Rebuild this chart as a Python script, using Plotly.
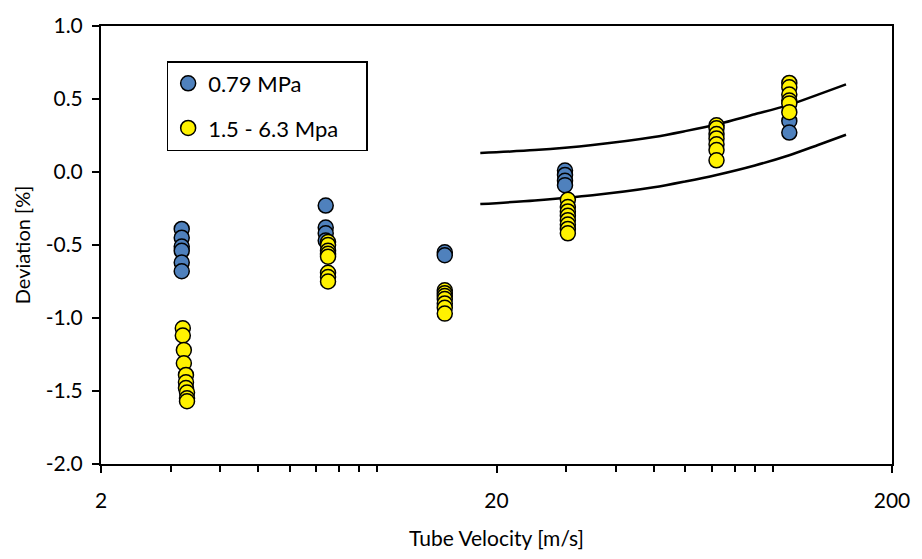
import plotly.graph_objects as go

# ---- data ----
blue_v = [3.2, 3.2, 3.2, 3.2, 3.2, 3.2,
          7.4, 7.4, 7.4, 7.4,
          14.8, 14.8,
          29.8, 29.8, 29.8, 29.8,
          110, 110]
blue_dev = [-0.39, -0.45, -0.51, -0.54, -0.62, -0.68,
            -0.23, -0.38, -0.42, -0.47,
            -0.55, -0.57,
            0.01, -0.02, -0.06, -0.09,
            0.35, 0.27]

yellow_v = [3.22, 3.22, 3.24, 3.24, 3.28, 3.28, 3.28, 3.30, 3.30, 3.30,
            7.5, 7.5, 7.5, 7.5, 7.5, 7.5, 7.5, 7.5,
            14.8, 14.8, 14.8, 14.8, 14.8, 14.8, 14.8,
            30.3, 30.3, 30.3, 30.3, 30.3, 30.3, 30.3, 30.3,
            72, 72, 72, 72, 72, 72, 72,
            110, 110, 110, 110, 110, 110]
yellow_dev = [-1.07, -1.12, -1.22, -1.31, -1.39, -1.44, -1.48, -1.51, -1.55, -1.57,
              -0.48, -0.50, -0.54, -0.56, -0.58, -0.69, -0.72, -0.75,
              -0.81, -0.83, -0.85, -0.87, -0.90, -0.93, -0.97,
              -0.19, -0.24, -0.27, -0.30, -0.33, -0.36, -0.39, -0.42,
              0.32, 0.30, 0.26, 0.23, 0.19, 0.15, 0.08,
              0.61, 0.58, 0.53, 0.49, 0.47, 0.41]

curve_v = [18.2, 25, 35, 50, 60, 72, 90, 110, 130, 153]
upper_dev = [0.13, 0.15, 0.185, 0.24, 0.28, 0.325, 0.395, 0.46, 0.53, 0.60]
lower_dev = [-0.22, -0.195, -0.16, -0.105, -0.065, -0.02, 0.045, 0.115, 0.185, 0.255]

x_ticks = [2, 20, 200]
y_ticks = [-2.0, -1.5, -1.0, -0.5, 0.0, 0.5, 1.0]
y_ticktext = ["%.1f" % t for t in y_ticks]  # plain hyphen minus, as in the reference

FONT = "Lato"
PAD = "\u00a0" * 4  # invisible padding to widen the legend box like the reference

fig = go.Figure()

for dev in (upper_dev, lower_dev):
    fig.add_trace(go.Scatter(x=curve_v, y=dev, mode="lines",
                             line=dict(color="black", width=2.5, shape="spline", smoothing=0.8),
                             showlegend=False, hoverinfo="skip"))

fig.add_trace(go.Scatter(x=blue_v, y=blue_dev, mode="markers", name="0.79 MPa", legendgroup="a",
                         marker=dict(size=15, color="#4F81BD", line=dict(color="black", width=1.5))))
fig.add_trace(go.Scatter(x=yellow_v, y=yellow_dev, mode="markers", name="1.5 - 6.3 Mpa" + PAD, legendgroup="b",
                         marker=dict(size=15, color="#FFF200", line=dict(color="black", width=1.5))))

fig.update_layout(
    width=922, height=559,
    margin=dict(l=101, r=25, t=21, b=94),
    paper_bgcolor="white", plot_bgcolor="white",
    font=dict(family=FONT, size=20, color="black"),
    showlegend=True,
    legend=dict(x=0.083, y=0.92, xanchor="left", yanchor="top",
                bordercolor="black", borderwidth=1.5, bgcolor="white",
                font=dict(family=FONT, size=22), tracegroupgap=13, traceorder="grouped"),
    xaxis=dict(type="log", range=[0.30103, 2.30103], tickvals=x_ticks, ticktext=[str(t) for t in x_ticks],
               showgrid=False, zeroline=False, showline=True, linecolor="black", linewidth=2, mirror=True,
               ticks="outside", ticklen=7, tickwidth=2, tickcolor="black", ticklabelstandoff=10,
               tickfont=dict(size=21),
               minor=dict(tickvals=[3, 4, 5, 6, 7, 8, 9, 10, 30, 40, 50, 60, 70, 80, 90, 100],
                          ticks="outside", ticklen=6, tickwidth=2, tickcolor="black", showgrid=False),
               title=dict(text="Tube Velocity [m/s]", font=dict(size=21), standoff=20)),
    yaxis=dict(range=[-2.0, 1.0], tickvals=y_ticks, ticktext=y_ticktext,
               showgrid=False, zeroline=False, showline=True, linecolor="black", linewidth=2, mirror=True,
               ticks="outside", ticklen=7, tickwidth=2, tickcolor="black", ticklabelstandoff=5,
               tickfont=dict(size=21),
               title=dict(text="Deviation [%]", font=dict(size=20), standoff=10)),
)

fig.write_html("out.html")
